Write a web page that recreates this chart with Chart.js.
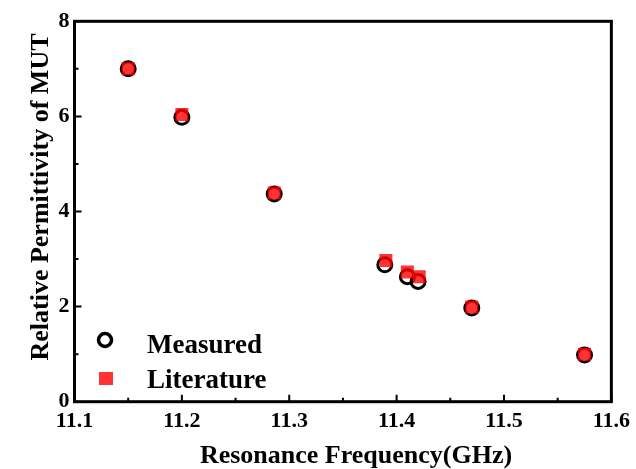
<!DOCTYPE html>
<html>
<head>
<meta charset="utf-8">
<script src="https://cdn.jsdelivr.net/npm/chart.js@4.4.1/dist/chart.umd.min.js"></script>
<style>
    body { margin: 0; background: #fff; }
    canvas { display: block; }
</style>
</head>
<body>
<canvas id="myChart" width="636" height="469"></canvas>
<script>
// data
const freqMeasured = [11.15, 11.2, 11.286, 11.389, 11.41, 11.42, 11.47, 11.575];
const epsMeasured = [7.0, 5.98, 4.37, 2.88, 2.63, 2.53, 1.97, 0.98];
const freqLiterature = [11.15, 11.2, 11.286, 11.39, 11.41, 11.421, 11.47, 11.575];
const epsLiterature = [7.0, 6.04, 4.39, 2.97, 2.73, 2.63, 1.99, 1.0];

const xTicks = [11.1, 11.2, 11.3, 11.4, 11.5, 11.6];
const xMinorTicks = [11.15, 11.25, 11.35, 11.45, 11.55];
const yTicks = [0, 2, 4, 6, 8];
const yMinorTicks = [1, 3, 5, 7];

const xTitle = "Resonance Frequency(GHz)";
const yTitle = "Relative Permittivity of MUT";
const legendLabels = ["Measured", "Literature"];

const serif = "'Liberation Serif', 'Times New Roman', serif";
const squareColor = "rgba(255, 0, 0, 0.8)";

function toPoints(xs, ys) {
    return xs.map((x, i) => ({ x: x, y: ys[i] }));
}

// frame, inward ticks, titles and legend
const framePlugin = {
    id: "frame",
    beforeDatasetsDraw(chart) {
        const { ctx, chartArea } = chart;
        const xs = chart.scales.x;
        const ys = chart.scales.y;
        ctx.save();
        ctx.strokeStyle = "#000";
        ctx.lineWidth = 3;
        ctx.strokeRect(chartArea.left, chartArea.top,
            chartArea.right - chartArea.left, chartArea.bottom - chartArea.top);
        ctx.lineWidth = 2;
        ctx.beginPath();
        xTicks.forEach((v) => {
            const px = xs.getPixelForValue(v);
            ctx.moveTo(px, chartArea.bottom);
            ctx.lineTo(px, chartArea.bottom - 7);
        });
        xMinorTicks.forEach((v) => {
            const px = xs.getPixelForValue(v);
            ctx.moveTo(px, chartArea.bottom);
            ctx.lineTo(px, chartArea.bottom - 4);
        });
        yTicks.forEach((v) => {
            const py = ys.getPixelForValue(v);
            ctx.moveTo(chartArea.left, py);
            ctx.lineTo(chartArea.left + 7, py);
        });
        yMinorTicks.forEach((v) => {
            const py = ys.getPixelForValue(v);
            ctx.moveTo(chartArea.left, py);
            ctx.lineTo(chartArea.left + 4, py);
        });
        ctx.stroke();
        ctx.restore();
    },
    afterDraw(chart) {
        const { ctx } = chart;
        ctx.save();
        ctx.fillStyle = "#000";
        ctx.font = "bold 26px " + serif;
        ctx.textAlign = "center";
        ctx.textBaseline = "alphabetic";
        ctx.fillText(xTitle, 356, 463);

        ctx.save();
        ctx.translate(48, 197);
        ctx.rotate(-Math.PI / 2);
        ctx.fillText(yTitle, 0, 0);
        ctx.restore();

        // legend
        ctx.strokeStyle = "#000";
        ctx.lineWidth = 3.5;
        ctx.beginPath();
        ctx.arc(105, 340, 6.5, 0, Math.PI * 2);
        ctx.stroke();
        ctx.fillStyle = squareColor;
        ctx.fillRect(99, 372, 14, 13);

        ctx.fillStyle = "#000";
        ctx.font = "bold 27px " + serif;
        ctx.textAlign = "left";
        ctx.fillText(legendLabels[0], 147, 353);
        ctx.fillText(legendLabels[1], 147, 388);
        ctx.restore();
    },
};

const ctx = document.getElementById("myChart").getContext("2d");
const myChart = new Chart(ctx, {
    type: "scatter",
    data: {
        datasets: [
            {
                label: legendLabels[0],
                data: toPoints(freqMeasured, epsMeasured),
                pointStyle: "circle",
                pointRadius: 7,
                pointBorderWidth: 3,
                borderColor: "#000",
                backgroundColor: "rgba(0,0,0,0)",
                order: 1,
            },
            {
                label: legendLabels[1],
                data: toPoints(freqLiterature, epsLiterature),
                pointStyle: "rect",
                pointRadius: 9.2,
                pointBorderWidth: 0,
                borderColor: "rgba(0,0,0,0)",
                backgroundColor: squareColor,
                order: 0,
            },
        ],
    },
    options: {
        responsive: false,
        animation: false,
        events: [],
        layout: {
            padding: { top: 21.3, right: 23.3, left: 0, bottom: 0 },
        },
        plugins: {
            legend: { display: false },
            tooltip: { enabled: false },
        },
        scales: {
            x: {
                type: "linear",
                min: 11.1,
                max: 11.6,
                afterBuildTicks: (scale) => {
                    scale.ticks = xTicks.map((v) => ({ value: v }));
                },
                afterFit: (scale) => {
                    scale.height = 67.3;
                },
                grid: { display: false, drawTicks: false },
                border: { display: false },
                ticks: {
                    color: "#000",
                    padding: 6,
                    maxRotation: 0,
                    font: { family: serif, size: 22, weight: "bold" },
                    callback: (v) => Number(v).toFixed(1),
                },
            },
            y: {
                type: "linear",
                min: 0,
                max: 8,
                afterBuildTicks: (scale) => {
                    scale.ticks = yTicks.map((v) => ({ value: v }));
                },
                afterFit: (scale) => {
                    scale.width = 74.5;
                },
                grid: { display: false, drawTicks: false },
                border: { display: false },
                ticks: {
                    color: "#000",
                    padding: 5,
                    font: { family: serif, size: 22, weight: "bold" },
                    callback: (v) => String(v),
                },
            },
        },
    },
    plugins: [framePlugin],
});
</script>
</body>
</html>
